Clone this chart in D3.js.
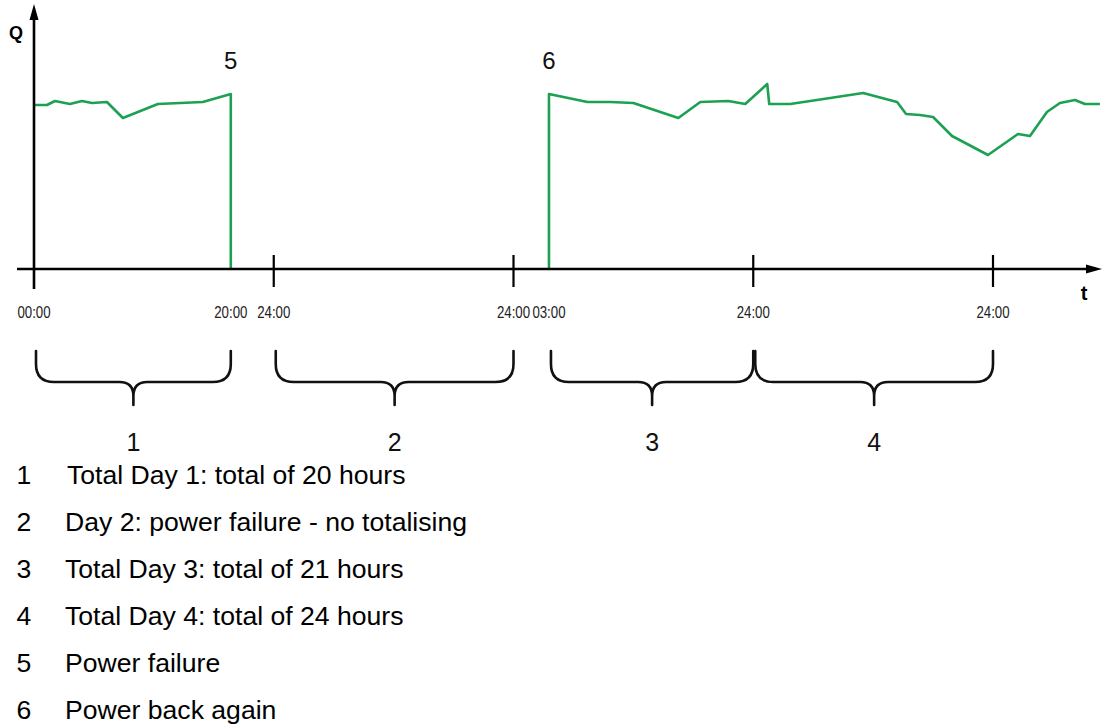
<!DOCTYPE html>
<html>
<head>
<meta charset="utf-8">
<script src="https://cdn.jsdelivr.net/npm/d3@7"></script>
<style>
  html, body { margin: 0; padding: 0; background: #fff; }
  svg { display: block; }
</style>
</head>
<body>
<svg id="chart" width="1103" height="726"></svg>
<script>
// ---- data (hours since start, flow Q in % of axis height) ----
const day1Hours = [0, 1.3, 2.1, 3.6, 4.8, 5.8, 7.3, 8.9, 12.4, 16.9, 19.7, 19.7];
const day1Q     = [82, 82, 84, 82.5, 84, 83, 83.5, 75.5, 82.5, 83.5, 87.5, 0];

const day3Hours = [51.55, 51.55, 55.4, 57.7, 60.0, 64.5, 66.7, 69.5, 71.2, 73.4, 73.6, 75.7, 79.7, 83.0,
                   86.4, 87.3, 88.7, 90.0, 91.9, 95.5, 98.5, 99.7, 101.4, 102.7, 104.2, 105.2, 106.7];
const day3Q     = [0, 87.5, 83.5, 83.5, 83, 75.5, 83.5, 84, 82.5, 92.5, 82.5, 82.5, 85.5, 88,
                   83.5, 77.5, 77, 76, 66.5, 57, 67.5, 66.5, 78.5, 83, 84.5, 82.5, 82.5];

const tickHours  = [24, 48, 72, 96];
const labelHours = [0, 19.7, 24, 48, 51.55, 72, 96];
const labelTexts = ["00:00", "20:00", "24:00", "24:00", "03:00", "24:00", "24:00"];

const braceStart = [0, 24, 51.55, 72];
const braceEnd   = [19.7, 48, 72, 96];
const braceNames = ["1", "2", "3", "4"];

const eventHours = [19.7, 51.55];
const eventNames = ["5", "6"];

const legendKeys  = ["1", "2", "3", "4", "5", "6"];
const legendTexts = [
  "Total Day 1: total of 20 hours",
  "Day 2: power failure - no totalising",
  "Total Day 3: total of 21 hours",
  "Total Day 4: total of 24 hours",
  "Power failure",
  "Power back again"
];

// ---- layout ----
const svg = d3.select("#chart");
const x = d3.scaleLinear().domain([0, 96]).range([34, 993]);
const y = d3.scaleLinear().domain([0, 100]).range([269, 69]);
const axisY = y(0);
const green = "#1ca152";
const sans = "'Liberation Sans', Arial, sans-serif";

// green line
const line = d3.line().x(d => x(d[0])).y(d => y(d[1]));
[[day1Hours, day1Q], [day3Hours, day3Q]].forEach(([hs, qs]) => {
  svg.append("path")
    .attr("d", line(hs.map((h, i) => [h, qs[i]])))
    .attr("fill", "none")
    .attr("stroke", green)
    .attr("stroke-width", 2.6)
    .attr("stroke-linejoin", "round");
});

// axes
const axisG = svg.append("g").attr("stroke", "#000").attr("stroke-width", 2.6);
axisG.append("line").attr("x1", 17).attr("x2", 1092).attr("y1", axisY).attr("y2", axisY);
axisG.append("line").attr("x1", x(0)).attr("x2", x(0)).attr("y1", 289).attr("y2", 14);
svg.append("path")
  .attr("d", `M${x(0)},4 L${x(0) - 4.5},20 L${x(0) + 4.5},20 Z`).attr("fill", "#000");
svg.append("path")
  .attr("d", `M1102,${axisY} L1086,${axisY - 4.5} L1086,${axisY + 4.5} Z`).attr("fill", "#000");

// ticks
svg.append("g").selectAll("line").data(tickHours).join("line")
  .attr("x1", d => x(d)).attr("x2", d => x(d))
  .attr("y1", 255).attr("y2", 287)
  .attr("stroke", "#000").attr("stroke-width", 2.2);

// tick labels (narrow style)
svg.append("g").selectAll("text").data(labelHours).join("text")
  .attr("transform", d => `translate(${x(d)},318) scale(0.78,1)`)
  .attr("text-anchor", "middle")
  .attr("font-family", sans)
  .attr("font-size", 17)
  .attr("fill", "#222")
  .text((d, i) => labelTexts[i]);

// axis names
svg.append("text").attr("x", 9).attr("y", 39)
  .attr("font-family", sans)
  .attr("font-weight", "bold").attr("font-size", 18).text("Q");
svg.append("text").attr("x", 1084).attr("y", 300).attr("text-anchor", "middle")
  .attr("font-family", sans)
  .attr("font-weight", "bold").attr("font-size", 20).text("t");

// event markers 5 / 6
svg.append("g").selectAll("text").data(eventHours).join("text")
  .attr("x", d => x(d)).attr("y", 69).attr("text-anchor", "middle")
  .attr("font-family", sans)
  .attr("font-size", 24).attr("fill", "#111")
  .text((d, i) => eventNames[i]);

// braces
function bracePath(x0, x1) {
  const top = 351, hy = 382, tip = 405, r = 18, c = 14;
  const xc = (x0 + x1) / 2;
  return `M${x0},${top} V${hy - r} Q${x0},${hy} ${x0 + r},${hy} H${xc - c} Q${xc},${hy} ${xc},${hy + c} V${tip}` +
         ` M${xc},${hy + c} Q${xc},${hy} ${xc + c},${hy} H${x1 - r} Q${x1},${hy} ${x1},${hy - r} V${top}`;
}
const braceG = svg.append("g");
braceStart.forEach((s, i) => {
  const x0 = x(s) + 2, x1 = x(braceEnd[i]);
  braceG.append("path").attr("d", bracePath(x0, x1))
    .attr("fill", "none").attr("stroke", "#111").attr("stroke-width", 2.6)
    .attr("stroke-linecap", "round");
  braceG.append("text").attr("x", (x0 + x1) / 2).attr("y", 451).attr("text-anchor", "middle")
    .attr("font-family", sans)
    .attr("font-size", 25).attr("fill", "#111").text(braceNames[i]);
});

// legend
const legG = svg.append("g")
  .attr("font-family", sans)
  .attr("font-size", 26.6).attr("fill", "#000");
legendKeys.forEach((k, i) => {
  const by = 484 + i * 47;
  legG.append("text").attr("x", 24).attr("y", by).attr("text-anchor", "middle").text(k);
  legG.append("text").attr("x", i === 0 ? 67 : 65).attr("y", by).text(legendTexts[i]);
});
</script>
</body>
</html>
